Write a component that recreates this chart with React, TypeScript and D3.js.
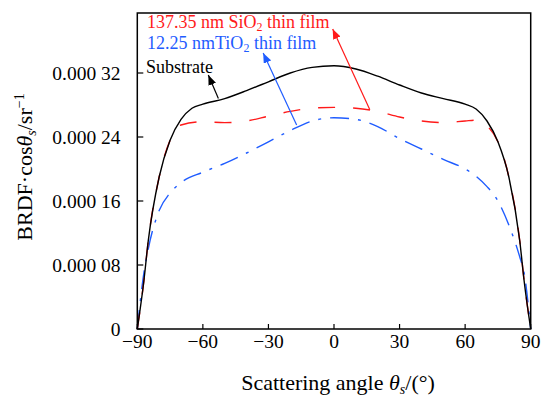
import React, { useEffect, useRef } from 'react';
import * as d3 from 'd3';

// scattering angle (deg) and BRDF*cos values
const substrateAngles = [-90, -87, -85, -80, -75, -70, -65, -60, -50, -40, -30, -20, -10, 0, 10, 20, 30, 40, 50, 60, 65, 70, 75, 80, 85, 87, 90];
const substrateValues = [0, 0.00006, 0.00011, 0.00019, 0.000236, 0.000262, 0.000276, 0.000281, 0.000288, 0.000298, 0.000309, 0.00032, 0.000327, 0.000329, 0.000325, 0.000316, 0.000305, 0.000295, 0.000288, 0.000281, 0.000275, 0.00026, 0.000234, 0.00019, 0.00011, 0.00006, 0];

const sio2Angles = [-90, -87, -85, -80, -75, -70, -60, -50, -40, -30, -20, -10, 0, 10, 20, 30, 40, 50, 60, 65, 70, 75, 80, 85, 87, 90];
const sio2Values = [0, 0.00006, 0.00011, 0.00019, 0.000236, 0.000255, 0.000259, 0.000258, 0.00026, 0.000266, 0.000272, 0.000276, 0.000277, 0.000276, 0.000272, 0.000265, 0.00026, 0.000258, 0.00026, 0.000261, 0.000254, 0.000234, 0.00019, 0.00011, 0.00006, 0];

const tio2Angles = [-90, -87, -85, -80, -75, -70, -60, -50, -40, -30, -20, -10, 0, 10, 20, 30, 40, 50, 60, 65, 70, 75, 80, 85, 87, 90];
const tio2Values = [0, 0.00007, 0.0001, 0.000148, 0.00017, 0.000183, 0.000196, 0.000207, 0.00022, 0.000234, 0.000248, 0.00026, 0.000264, 0.000262, 0.000253, 0.000238, 0.000225, 0.000212, 0.0002, 0.000191, 0.000178, 0.00016, 0.00013, 0.00009, 0.00007, 0];

const xTicks = [-90, -60, -30, 0, 30, 60, 90];
const xTickLabels = ['\u221290', '\u221260', '\u221230', '0', '30', '60', '90'];
const yTicks = [0, 0.00008, 0.00016, 0.00024, 0.00032];
const yTickLabels = ['0', '0.000 08', '0.000 16', '0.000 24', '0.000 32'];

// arrows: [fromAngle, fromValue, toAngle, toValue]
const sio2Arrow = [16.4, 0.000274, -0.6, 0.000375];
const tio2Arrow = [-17.1, 0.000255, -32.4, 0.000345];
const substrateArrow = [-52.9, 0.000288, -57.5, 0.0003175];

const RED = '#ff1a1a';
const BLUE = '#1f5cff';
const FONT = '"Liberation Serif", "Times New Roman", serif';

export default function App() {
  const ref = useRef<SVGSVGElement>(null);

  useEffect(() => {
    const width = 541;
    const height = 400;
    const left = 137.3, right = 530.7, top = 13, bottom = 329;

    const svg = d3.select(ref.current);
    svg.selectAll('*').remove();
    svg.attr('width', width).attr('height', height);

    const x = d3.scaleLinear().domain([-90, 90]).range([left, right]);
    const y = d3.scaleLinear().domain([0, 0.000395]).range([bottom, top]);

    const defs = svg.append('defs');
    [['red', RED], ['blue', BLUE], ['black', '#000']].forEach(([id, c]) => {
      defs.append('marker')
        .attr('id', 'arrow-' + id)
        .attr('viewBox', '0 0 10 8')
        .attr('refX', 10).attr('refY', 4)
        .attr('markerWidth', 10).attr('markerHeight', 8)
        .attr('markerUnits', 'userSpaceOnUse')
        .attr('orient', 'auto')
        .append('path')
        .attr('d', 'M0,0 L10,4 L0,8 z')
        .attr('fill', c);
    });

    const line = d3.line<[number, number]>()
      .x(d => x(d[0]))
      .y(d => y(d[1]))
      .curve(d3.curveMonotoneX);

    const zip = (a: number[], b: number[]) => a.map((v, i) => [v, b[i]] as [number, number]);

    svg.append('path')
      .attr('d', line(zip(tio2Angles, tio2Values)))
      .attr('fill', 'none').attr('stroke', BLUE).attr('stroke-width', 1.4)
      .attr('stroke-dasharray', '19,9,3,9');

    svg.append('path')
      .attr('d', line(zip(sio2Angles, sio2Values)))
      .attr('fill', 'none').attr('stroke', RED).attr('stroke-width', 1.4)
      .attr('stroke-dasharray', '17,18');

    svg.append('path')
      .attr('d', line(zip(substrateAngles, substrateValues)))
      .attr('fill', 'none').attr('stroke', '#000').attr('stroke-width', 1.4);

    // frame
    svg.append('rect')
      .attr('x', left).attr('y', top)
      .attr('width', right - left).attr('height', bottom - top)
      .attr('fill', 'none').attr('stroke', '#000').attr('stroke-width', 1.5);

    // ticks (inward)
    svg.selectAll('.xtick').data(xTicks).enter().append('line')
      .attr('x1', d => x(d)).attr('x2', d => x(d))
      .attr('y1', bottom).attr('y2', bottom - 5)
      .attr('stroke', '#000').attr('stroke-width', 1.2);
    svg.selectAll('.ytick').data(yTicks).enter().append('line')
      .attr('x1', left).attr('x2', left + 6)
      .attr('y1', d => y(d)).attr('y2', d => y(d))
      .attr('stroke', '#000').attr('stroke-width', 1.2);

    svg.selectAll('.xlabel').data(xTicks).enter().append('text')
      .attr('x', d => x(d)).attr('y', bottom + 19)
      .attr('text-anchor', 'middle')
      .attr('font-family', FONT).attr('font-size', 19.5)
      .text((d, i) => xTickLabels[i]);
    svg.selectAll('.ylabel').data(yTicks).enter().append('text')
      .attr('x', 120.5).attr('y', d => y(d) + 6.5)
      .attr('text-anchor', 'end')
      .attr('font-family', FONT).attr('font-size', 19.5)
      .text((d, i) => yTickLabels[i]);

    // axis titles
    const xt = svg.append('text')
      .attr('x', 338).attr('y', 390)
      .attr('text-anchor', 'middle')
      .attr('font-family', FONT).attr('font-size', 22);
    xt.append('tspan').text('Scattering angle ');
    xt.append('tspan').attr('font-style', 'italic').text('\u03b8');
    xt.append('tspan').attr('font-style', 'italic').attr('font-size', 14).attr('dy', 4).text('s');
    xt.append('tspan').attr('dy', -4).text('/(\u00b0)');

    const yt = svg.append('text')
      .attr('transform', 'translate(32,167) rotate(-90)')
      .attr('text-anchor', 'middle')
      .attr('font-family', FONT).attr('font-size', 22);
    yt.append('tspan').text('BRDF\u00b7cos');
    yt.append('tspan').attr('font-style', 'italic').text('\u03b8');
    yt.append('tspan').attr('font-style', 'italic').attr('font-size', 14).attr('dy', 4).text('s');
    yt.append('tspan').attr('dy', -4).text('/sr');
    yt.append('tspan').attr('font-size', 14).attr('dy', -8).text('\u22121');

    // annotations
    const t1 = svg.append('text')
      .attr('x', 147).attr('y', 28)
      .attr('font-family', FONT).attr('font-size', 18).attr('fill', RED);
    t1.append('tspan').text('137.35 nm SiO');
    t1.append('tspan').attr('font-size', 12).attr('dy', 3).text('2');
    t1.append('tspan').attr('dy', -3).text(' thin film');

    const t2 = svg.append('text')
      .attr('x', 147).attr('y', 49)
      .attr('font-family', FONT).attr('font-size', 18).attr('fill', BLUE);
    t2.append('tspan').text('12.25 nmTiO');
    t2.append('tspan').attr('font-size', 12).attr('dy', 3).text('2');
    t2.append('tspan').attr('dy', -3).text(' thin film');

    svg.append('text')
      .attr('x', 146).attr('y', 73)
      .attr('font-family', FONT).attr('font-size', 18).attr('fill', '#000')
      .text('Substrate');

    const arrows: [number[], string, string][] = [
      [sio2Arrow, RED, 'red'],
      [tio2Arrow, BLUE, 'blue'],
      [substrateArrow, '#000', 'black'],
    ];
    arrows.forEach(([a, c, id]) => {
      svg.append('line')
        .attr('x1', x(a[0])).attr('y1', y(a[1]))
        .attr('x2', x(a[2])).attr('y2', y(a[3]))
        .attr('stroke', c).attr('stroke-width', 1.2)
        .attr('marker-end', `url(#arrow-${id})`);
    });
  }, []);

  return (
    <svg ref={ref} style={{ position: 'absolute', left: 0, top: 0, background: '#fff' }}></svg>
  );
}
